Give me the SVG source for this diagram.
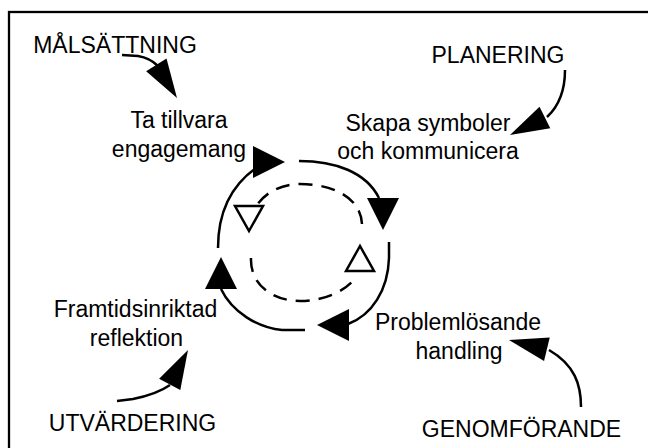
<svg xmlns="http://www.w3.org/2000/svg" width="648" height="448" viewBox="0 0 648 448">
<defs>
<style>
text{font-family:"Liberation Sans",Arial,sans-serif;font-size:23px;fill:#000;text-anchor:middle}
.ln{fill:none;stroke:#000;stroke-width:2.5}
.dash{fill:none;stroke:#000;stroke-width:2.5;stroke-dasharray:14 9}
.fh{fill:#000}
.hh{fill:#fff;stroke:#000;stroke-width:2.5}
</style>
<path id="ah" d="M0,0 L-32,-16 L-32,16 Z"/>
<path id="ao" d="M0,0 L-39,-12 L-39,12 Z"/>
<path id="hol" d="M0,0 L-25,-14 L-25,14 Z"/>
</defs>
<rect x="9" y="12" width="660" height="460" fill="none" stroke="#000" stroke-width="2.3"/>

<g id="malsattning"><text x="115" y="53">MÅLSÄTTNING</text></g>
<g id="planering"><text x="498" y="63">PLANERING</text></g>
<g id="utvardering"><text x="132.5" y="431">UTVÄRDERING</text></g>
<g id="genomforande"><text x="521.5" y="437">GENOMFÖRANDE</text></g>
<g id="ta-tillvara"><text x="179" y="128">Ta tillvara</text><text x="179" y="157">engagemang</text></g>
<g id="skapa-symboler"><text x="428" y="131">Skapa symboler</text><text x="428" y="159">och kommunicera</text></g>
<g id="framtidsinriktad"><text x="135.5" y="317">Framtidsinriktad</text><text x="136.5" y="346">reflektion</text></g>
<g id="problemlosande"><text x="458" y="330">Problemlösande</text><text x="459" y="359">handling</text></g>

<g id="connectors">
  <!-- outer cycle -->
  <path class="ln" d="M218,248 C218,212 232,185 256,168"/>
  <use href="#ah" class="fh" transform="translate(285,162)"/>
  <path class="ln" d="M299,161 C335,161 366,172 379,198"/>
  <use href="#ah" class="fh" transform="translate(383,230) rotate(90)"/>
  <path class="ln" d="M389,242 L389,258 C388,290 372,315 348,324"/>
  <use href="#ah" class="fh" transform="translate(317,325) rotate(180)"/>
  <path class="ln" d="M305,330 L282,330 C258,328 232,312 221,289"/>
  <use href="#ah" class="fh" transform="translate(221,257) rotate(-90)"/>
  <!-- inner dashed cycle -->
  <path class="dash" d="M362,224 C361,198 333,184 300,184 C282,184 266,192 257,205"/>
  <use href="#hol" class="hh" transform="translate(249,231) rotate(90)"/>
  <path class="dash" d="M251,258 C250,285 273,301 300,301 C325,301 346,291 357,276"/>
  <use href="#hol" class="hh" transform="translate(360,246) rotate(-90)"/>
  <!-- phase arrows -->
  <path class="ln" d="M122,55 L138,56 Q150,58 158,66"/>
  <use href="#ao" class="fh" transform="translate(177,98) rotate(58)"/>
  <path class="ln" d="M565,70 C565,90 560,105 547,117"/>
  <use href="#ao" class="fh" transform="translate(510,135) rotate(153.4)"/>
  <path class="ln" d="M117,401 L133,399 C148,396 160,392 170,385"/>
  <use href="#ao" class="fh" transform="translate(188,350) rotate(-62)"/>
  <path class="ln" d="M581,407 C581,385 575,365 549,350"/>
  <use href="#ao" class="fh" transform="translate(509,340) rotate(193.7)"/>
</g>
</svg>
